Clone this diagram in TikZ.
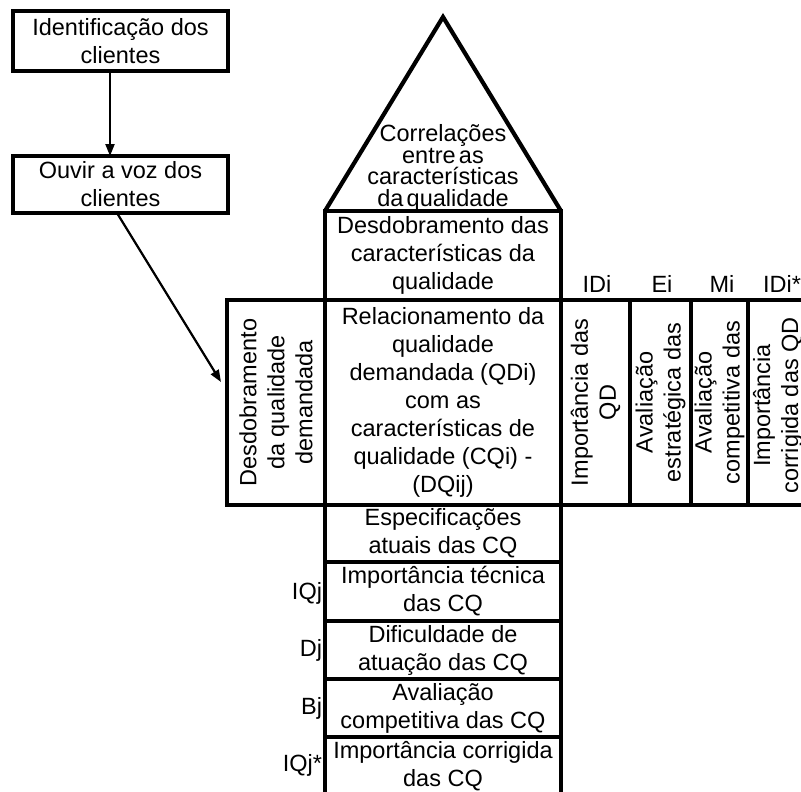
\documentclass[tikz,border=0pt]{standalone}
\usepackage{fontspec}
\setmainfont{Liberation Sans}
\usetikzlibrary{arrows.meta}
\newcommand\roofspacing{\spaceskip=0.14em\relax}
\begin{document}
\begin{tikzpicture}[x=1pt,y=-1pt,
  every node/.style={inner sep=0pt, outer sep=0pt, align=center,
    font=\fontsize{23.5}{28}\selectfont},
  cell/.style={draw, line width=4.2pt},
  vtext/.style={rotate=90},
  flowbox/.style={draw, line width=4.2pt, minimum width=215pt},
  link/.style={line width=2.2pt, -{Triangle[length=12pt,width=9pt]}},
  tag/.style={anchor=east},
  rooftext/.style={font=\fontsize{23.5}{21.5}\selectfont\roofspacing}
]
\path[use as bounding box, fill=white] (0,0) rectangle (801,792);

% customer steps
\node[flowbox, minimum height=60pt] (id) at (120.5,41) {Identificação dos\\clientes};
\node[flowbox, minimum height=57pt] (ov) at (120.5,184.5) {Ouvir a voz dos\\clientes};
\coordinate (tip) at (221,382);
\draw[link] ([xshift=-10.5pt]id.south) -- ([xshift=-10.5pt]ov.north);
\draw[link] ([xshift=-3.5pt]ov.south) -- (tip);

% roof
\coordinate (rl) at (325,211);
\coordinate (ra) at (443,17);
\coordinate (rr) at (561,211);
\draw[line width=4.2pt, line join=miter] (rl) -- (ra) -- (rr);
\node[rooftext] (corr) at (443,168)
  {Correlações\\entre as\\características\\da qualidade};

% central column
\node[cell, minimum width=236pt, minimum height=89pt] (dc) at (443,255.5)
  {Desdobramento das\\características da\\qualidade};
\node[cell, minimum width=98pt, minimum height=205pt] (qd) at (276,402.5) {};
\node[vtext] at (qd.center) {Desdobramento\\da qualidade\\demandada};
\node[cell, minimum width=236pt, minimum height=205pt] (rel) at (443,402.5)
  {Relacionamento da\\qualidade\\demandada (QDi)\\com as\\características de\\qualidade (CQi) -\\(DQij)};

% right-hand columns
\node[cell, minimum width=69pt, minimum height=205pt] (c1) at (595.5,402.5) {};
\node[cell, minimum width=61pt, minimum height=205pt] (c2) at (660.5,402.5) {};
\node[cell, minimum width=57pt, minimum height=205pt] (c3) at (719.5,402.5) {};
\node[cell, minimum width=60pt, minimum height=205pt] (c4) at (778,402.5) {};
\node[vtext] at (c1.center) {Importância das\\QD};
\node[vtext] at (c2.center) {Avaliação\\estratégica das};
\node[vtext] at (c3.center) {Avaliação\\competitiva das};
\node[vtext] at ([yshift=-3pt]c4.center) {Importância\\corrigida das QD};
\node (h1) at (597,284) {IDi};
\node (h2) at (662,284) {Ei};
\node (h3) at (722,284) {Mi};
\node (h4) at (782,284) {IDi*};

% lower column
\node[cell, minimum width=236pt, minimum height=57pt] (esp) at (443,533.5)
  {Especificações\\atuais das CQ};
\node[cell, minimum width=236pt, minimum height=59pt] (imt) at (443,591.5)
  {Importância técnica\\das CQ};
\node[cell, minimum width=236pt, minimum height=58pt] (dif) at (443,650)
  {Dificuldade de\\atuação das CQ};
\node[cell, minimum width=236pt, minimum height=58pt] (ava) at (443,708)
  {Avaliação\\competitiva das CQ};
\node[cell, minimum width=236pt, minimum height=59pt] (imc) at (443,766.5)
  {Importância corrigida\\das CQ};
\node[tag] (l1) at (322,593) {IQj};
\node[tag] (l2) at (322,650) {Dj};
\node[tag] (l3) at (322,708) {Bj};
\node[tag] (l4) at (322,765) {IQj*};
\end{tikzpicture}
\end{document}
